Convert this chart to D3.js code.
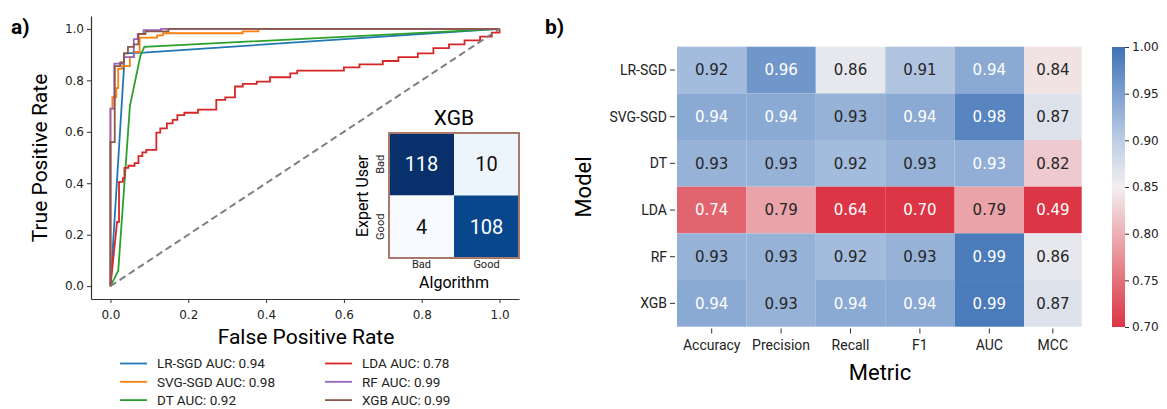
<!DOCTYPE html>
<html>
<head>
<meta charset="utf-8">
<script src="https://cdn.jsdelivr.net/npm/d3@7"></script>
<style>
  body { margin: 0; background: #fff; }
  svg { display: block; }
  .num { font-family: "DejaVu Sans", sans-serif; }
  .lab { font-family: Roboto, sans-serif; }
</style>
</head>
<body>
<svg id="chart"></svg>
<script>
// ---- data ----
const models = ["LR-SGD", "SVG-SGD", "DT", "LDA", "RF", "XGB"];
const aucs = [0.94, 0.98, 0.92, 0.78, 0.99, 0.99];

// ROC curves, [fpr, tpr]
const rocLR = [[0,0],[0.035,0.855],[0.035,0.905],[0.085,0.908],[1,1]];
const rocSVG = [[0,0],[0,0.69],[0.005,0.69],[0.005,0.735],[0.015,0.735],[0.015,0.77],[0.02,0.77],[0.02,0.845],
  [0.03,0.845],[0.03,0.855],[0.05,0.855],[0.05,0.89],[0.06,0.89],[0.06,0.91],[0.075,0.91],[0.075,0.966],
  [0.12,0.966],[0.12,0.975],[0.135,0.975],[0.135,0.983],[0.34,0.983],[0.34,0.99],[0.38,0.99],[0.38,1],[1,1]];
const rocDT = [[0,0],[0.02,0.06],[0.05,0.70],[0.077,0.895],[0.087,0.93],[1,1]];
const rocLDA = [[0,0],[0.017,0.25],[0.022,0.25],[0.022,0.405],[0.032,0.405],[0.032,0.42],[0.036,0.42],[0.036,0.46],
  [0.046,0.46],[0.046,0.468],[0.062,0.468],[0.062,0.478],[0.072,0.478],[0.072,0.505],[0.082,0.505],[0.082,0.52],
  [0.092,0.52],[0.092,0.53],[0.118,0.53],[0.118,0.597],[0.128,0.597],[0.128,0.613],[0.145,0.613],[0.145,0.633],
  [0.16,0.633],[0.16,0.646],[0.172,0.646],[0.172,0.665],[0.19,0.665],[0.19,0.674],[0.225,0.674],[0.225,0.686],
  [0.272,0.686],[0.272,0.724],[0.295,0.724],[0.295,0.734],[0.32,0.734],[0.32,0.776],[0.34,0.776],[0.34,0.786],
  [0.376,0.786],[0.376,0.795],[0.41,0.795],[0.41,0.812],[0.462,0.812],[0.462,0.827],[0.48,0.827],[0.48,0.838],
  [0.6,0.838],[0.6,0.85],[0.64,0.85],[0.64,0.862],[0.7,0.862],[0.7,0.875],[0.74,0.875],[0.74,0.89],[0.79,0.89],
  [0.79,0.905],[0.83,0.905],[0.83,0.925],[0.87,0.925],[0.87,0.94],[0.91,0.94],[0.91,0.955],[0.95,0.955],
  [0.95,0.97],[0.98,0.97],[0.98,0.985],[1,0.985],[1,1]];
const rocRF = [[0,0],[0,0.69],[0.01,0.69],[0.01,0.865],[0.035,0.865],[0.035,0.89],[0.06,0.89],[0.06,0.96],
  [0.07,0.96],[0.07,0.98],[0.085,0.98],[0.085,0.995],[0.13,0.995],[0.13,1],[1,1]];
const rocXGB = [[0,0],[0,0.56],[0.011,0.56],[0.011,0.855],[0.025,0.855],[0.025,0.87],[0.035,0.87],[0.035,0.905],
  [0.045,0.905],[0.045,0.93],[0.06,0.93],[0.06,0.94],[0.072,0.94],[0.072,0.98],[0.09,0.98],[0.09,0.99],
  [0.149,0.99],[0.149,1],[1,1]];
const rocs = [rocLR, rocSVG, rocDT, rocLDA, rocRF, rocXGB];
const axisTicks = [0, 0.2, 0.4, 0.6, 0.8, 1.0];

// confusion matrix of XGB
const cmLabels = ["Bad", "Good"];
const cmValues = [[118, 10], [4, 108]];

// heatmap
const metrics = ["Accuracy", "Precision", "Recall", "F1", "AUC", "MCC"];
const scores = [
  [0.92, 0.96, 0.86, 0.91, 0.94, 0.84],
  [0.94, 0.94, 0.93, 0.94, 0.98, 0.87],
  [0.93, 0.93, 0.92, 0.93, 0.934, 0.82],
  [0.74, 0.79, 0.64, 0.70, 0.79, 0.49],
  [0.93, 0.93, 0.92, 0.93, 0.99, 0.86],
  [0.94, 0.93, 0.94, 0.94, 0.99, 0.87]
];
const cbarTicks = [0.70, 0.75, 0.80, 0.85, 0.90, 0.95, 1.00];

// ---- styles ----
const palette = ["#1f77b4", "#ff7f0e", "#2ca02c", "#d62728", "#9467bd", "#8c564b"];
const W = 1167, H = 409;

const svg = d3.select("#chart").attr("width", W).attr("height", H);

// ================= panel a =================
const x = d3.scaleLinear().domain([-0.05, 1.05]).range([91, 519]);
const y = d3.scaleLinear().domain([-0.05, 1.05]).range([299, 16]);

const ga = svg.append("g");

const xAx = ga.append("g").attr("transform", `translate(0,${y(-0.05)})`)
  .call(d3.axisBottom(x).tickValues(axisTicks).tickFormat(d3.format(".1f")).tickSize(4).tickSizeOuter(0));
const yAx = ga.append("g").attr("transform", `translate(${x(-0.05)},0)`)
  .call(d3.axisLeft(y).tickValues(axisTicks).tickFormat(d3.format(".1f")).tickSize(4).tickSizeOuter(0));
[xAx, yAx].forEach(a => {
  a.select(".domain").attr("stroke", "#333").attr("stroke-width", 1.2);
  a.selectAll(".tick line").attr("stroke", "#333").attr("stroke-width", 1);
  a.selectAll(".tick text").attr("class", "num").attr("font-size", 12).attr("fill", "#222");
});
xAx.selectAll(".tick text").attr("dy", "1.05em");

const line = d3.line().x(d => x(d[0])).y(d => y(d[1]));

rocs.forEach((r, i) => {
  ga.append("path").datum(r).attr("d", line)
    .attr("fill", "none").attr("stroke", palette[i]).attr("stroke-width", 1.8)
    .attr("stroke-linejoin", "miter");
});
ga.append("path").datum([[0, 0], [1, 1]]).attr("d", line)
  .attr("stroke", "#7f7f7f").attr("stroke-width", 2).attr("stroke-dasharray", "7,4").attr("fill", "none");

ga.append("text").attr("class", "lab").attr("x", 306).attr("y", 344)
  .attr("text-anchor", "middle").attr("font-size", 21).text("False Positive Rate");
ga.append("text").attr("class", "lab")
  .attr("transform", "translate(47,158) rotate(-90)")
  .attr("text-anchor", "middle").attr("font-size", 21).text("True Positive Rate");

ga.append("text").attr("class", "lab").attr("x", 11).attr("y", 34)
  .attr("font-size", 21).attr("font-weight", "bold").text("a)");

// legend
const leg = ga.append("g");
models.forEach((m, i) => {
  const col = Math.floor(i / 3), row = i % 3;
  const lx = 120 + col * 205, ly = 363.5 + row * 18.3;
  leg.append("line").attr("x1", lx).attr("x2", lx + 27).attr("y1", ly).attr("y2", ly)
    .attr("stroke", palette[i]).attr("stroke-width", 1.8);
  leg.append("text").attr("class", "lab").attr("x", lx + 37).attr("y", ly).attr("dy", "0.36em")
    .attr("font-size", 13.5).attr("fill", "#222").text(`${m} AUC: ${aucs[i].toFixed(2)}`);
});

// inset confusion matrix
const ix = d3.scaleBand().domain(cmLabels).range([389, 519]);
const iy = d3.scaleBand().domain(cmLabels).range([133, 258]);
const cmColor = d3.scaleSequential(d3.interpolateBlues).domain([4, 118]);
const gi = ga.append("g");
gi.append("rect").attr("x", 389).attr("y", 133).attr("width", 130).attr("height", 125).attr("fill", "#fff");
cmValues.forEach((row, r) => row.forEach((v, c) => {
  gi.append("rect").attr("x", ix(cmLabels[c])).attr("y", iy(cmLabels[r]))
    .attr("width", ix.bandwidth()).attr("height", iy.bandwidth()).attr("fill", cmColor(v));
  gi.append("text").attr("class", "lab")
    .attr("x", ix(cmLabels[c]) + ix.bandwidth() / 2).attr("y", iy(cmLabels[r]) + iy.bandwidth() / 2)
    .attr("dy", "0.36em").attr("text-anchor", "middle").attr("font-size", 20)
    .attr("fill", v > 60 ? "#fff" : "#111").text(v);
}));
gi.append("rect").attr("x", 389).attr("y", 133).attr("width", 130).attr("height", 125)
  .attr("fill", "none").attr("stroke", "#a9796c").attr("stroke-width", 2);
cmLabels.forEach(l => {
  gi.append("text").attr("class", "lab").attr("x", ix(l) + ix.bandwidth() / 2).attr("y", 268)
    .attr("text-anchor", "middle").attr("font-size", 11).attr("fill", "#222").text(l);
  gi.append("text").attr("class", "lab")
    .attr("transform", `translate(384,${iy(l) + iy.bandwidth() / 2}) rotate(-90)`)
    .attr("text-anchor", "middle").attr("font-size", 11).attr("fill", "#222").text(l);
});
gi.append("text").attr("class", "lab").attr("x", 454).attr("y", 288)
  .attr("text-anchor", "middle").attr("font-size", 16).text("Algorithm");
gi.append("text").attr("class", "lab").attr("transform", "translate(368,196) rotate(-90)")
  .attr("text-anchor", "middle").attr("font-size", 16).text("Expert User");
gi.append("text").attr("class", "lab").attr("x", 454).attr("y", 125)
  .attr("text-anchor", "middle").attr("font-size", 21).text("XGB");

// ================= panel b =================
const hx = d3.scaleBand().domain(metrics).range([677, 1093.4]);
const hy = d3.scaleBand().domain(models).range([46.7, 326.7]);
const hRight = 1081.7;
const cellW = m => Math.min(hx.bandwidth(), hRight - hx(m));
const cellC = m => hx(m) + cellW(m) / 2;

const heat = d3.scaleLinear()
  .domain([0.70, 0.75, 0.80, 0.85, 0.90, 0.95, 1.00])
  .range(["#dc3545", "#e3707a", "#ecb0b5", "#f2eff0", "#bccde4", "#7ea0cf", "#3f72b6"])
  .clamp(true);

function lum(c) {
  const o = d3.rgb(c);
  const f = v => { v /= 255; return v <= 0.03928 ? v / 12.92 : Math.pow((v + 0.055) / 1.055, 2.4); };
  return 0.2126 * f(o.r) + 0.7152 * f(o.g) + 0.0722 * f(o.b);
}

const gb = svg.append("g");
scores.forEach((row, r) => row.forEach((v, c) => {
  const m = metrics[c];
  const col = heat(v);
  gb.append("rect").attr("x", hx(m)).attr("y", hy(models[r]))
    .attr("width", cellW(m)).attr("height", hy.bandwidth()).attr("fill", col);
  gb.append("text").attr("class", "num")
    .attr("x", cellC(m)).attr("y", hy(models[r]) + hy.bandwidth() / 2).attr("dy", "0.36em")
    .attr("text-anchor", "middle").attr("font-size", 15)
    .attr("fill", lum(col) > 0.42 ? "#262626" : "#ffffff").text(d3.format(".2f")(v));
}));

// heatmap ticks
models.forEach(m => {
  const yy = hy(m) + hy.bandwidth() / 2;
  gb.append("line").attr("x1", 670).attr("x2", 675).attr("y1", yy).attr("y2", yy).attr("stroke", "#333");
  gb.append("text").attr("class", "lab").attr("x", 667).attr("y", yy).attr("dy", "0.36em")
    .attr("text-anchor", "end").attr("font-size", 14).attr("fill", "#222").text(m);
});
metrics.forEach(m => {
  const xx = cellC(m);
  gb.append("line").attr("x1", xx).attr("x2", xx).attr("y1", 328.5).attr("y2", 333.5).attr("stroke", "#333");
  gb.append("text").attr("class", "lab").attr("x", xx).attr("y", 350)
    .attr("text-anchor", "middle").attr("font-size", 14).attr("fill", "#222").text(m);
});
gb.append("text").attr("class", "lab").attr("x", 880).attr("y", 380)
  .attr("text-anchor", "middle").attr("font-size", 22).text("Metric");
gb.append("text").attr("class", "lab").attr("transform", "translate(591,187) rotate(-90)")
  .attr("text-anchor", "middle").attr("font-size", 22).text("Model");
gb.append("text").attr("class", "lab").attr("x", 545).attr("y", 34)
  .attr("font-size", 21).attr("font-weight", "bold").text("b)");

// colorbar
const cy = d3.scaleLinear().domain([0.70, 1.00]).range([327, 47]);
const defs = svg.append("defs");
const grad = defs.append("linearGradient").attr("id", "cbar")
  .attr("x1", 0).attr("y1", 1).attr("x2", 0).attr("y2", 0);
heat.domain().forEach(v => {
  grad.append("stop").attr("offset", (v - 0.70) / 0.30).attr("stop-color", heat(v));
});
gb.append("rect").attr("x", 1112).attr("y", 47).attr("width", 13).attr("height", 280).attr("fill", "url(#cbar)");
const cAx = gb.append("g").attr("transform", "translate(1125,0)")
  .call(d3.axisRight(cy).tickValues(cbarTicks).tickFormat(d3.format(".2f")).tickSize(4).tickSizeOuter(0));
cAx.select(".domain").remove();
cAx.selectAll(".tick line").attr("stroke", "#333");
cAx.selectAll(".tick text").attr("class", "num").attr("font-size", 12).attr("fill", "#222");
</script>
</body>
</html>
